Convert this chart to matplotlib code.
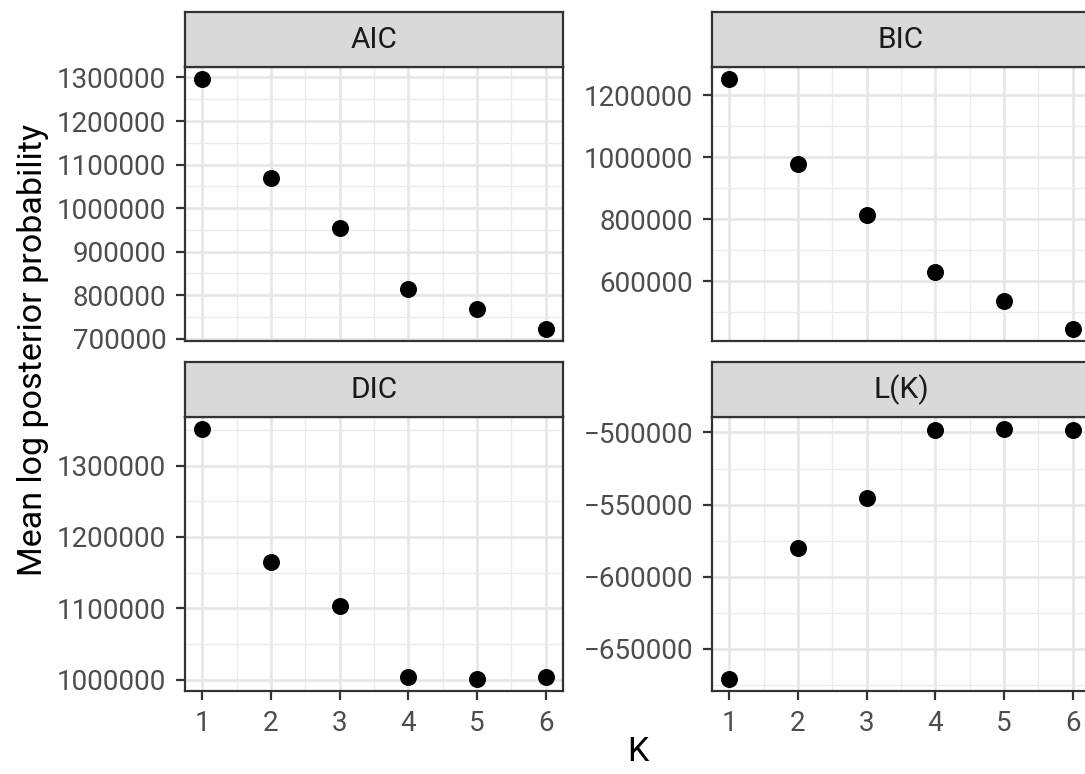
import numpy as np
import matplotlib
matplotlib.use("Agg")
import matplotlib.pyplot as plt
from matplotlib.ticker import MultipleLocator, FixedLocator

plt.rcParams['font.family'] = ['Roboto', 'DejaVu Sans']

# data
K = [1, 2, 3, 4, 5, 6]
panel_names = ["AIC", "BIC", "DIC", "L(K)"]
aic = [1295500, 1068000, 953000, 814000, 767000, 723000]
bic = [1251000, 977500, 815000, 629000, 537000, 447000]
dic = [1350700, 1164700, 1103700, 1003700, 1001400, 1003700]
lk = [-670700, -580000, -545200, -498200, -497900, -498400]
values = [aic, bic, dic, lk]
major_step = [100000, 200000, 100000, 50000]

W, H = 1085, 774
fig = plt.figure(figsize=(W / 100, H / 100), dpi=100)

def rect(x0, y0, x1, y1):
    # pixel box (top-left origin) to figure fraction
    return [x0 / W, 1 - y1 / H, (x1 - x0) / W, (y1 - y0) / H]

col_x = [(185, 563), (712, 1090)]
row_y = [(12, 67, 341), (362, 417, 691)]

edge = '#333333'
for i, name in enumerate(panel_names):
    r, c = divmod(i, 2)
    x0, x1 = col_x[c]
    s0, p0, p1 = row_y[r]

    ax = fig.add_axes(rect(x0, p0, x1, p1))
    ax.scatter(K, values[i], s=150, color='black', zorder=3, linewidths=0)
    ax.set_xlim(0.75, 6.25)
    ax.margins(y=0.05)
    step = major_step[i]
    ax.yaxis.set_major_locator(MultipleLocator(step))
    ax.yaxis.set_minor_locator(MultipleLocator(step / 2))
    ax.xaxis.set_major_locator(FixedLocator(K))
    ax.xaxis.set_minor_locator(FixedLocator([1.5, 2.5, 3.5, 4.5, 5.5]))
    ax.grid(which='major', color='#E6E6E6', lw=1.9, zorder=0)
    ax.grid(which='minor', color='#EBEBEB', lw=1.0, zorder=0)
    ax.set_axisbelow(True)
    for sp in ax.spines.values():
        sp.set_color(edge)
        sp.set_linewidth(1.6)
    ax.tick_params(which='major', length=6.5, width=1.6, color=edge,
                   labelsize=20, labelcolor='#4D4D4D', pad=7)
    ax.tick_params(which='minor', length=0)
    ax.yaxis.set_major_formatter(plt.FuncFormatter(
        lambda v, p: ('\u2212' if v < 0 else '') + '%d' % abs(round(v))))
    if r == 0:
        ax.tick_params(axis='x', which='both', length=0, labelbottom=False)

    sax = fig.add_axes(rect(x0, s0, x1, p0))
    sax.set_facecolor('#D9D9D9')
    sax.set_xticks([])
    sax.set_yticks([])
    for sp in sax.spines.values():
        sp.set_color(edge)
        sp.set_linewidth(1.6)
    sax.text(0.5, 0.5, name, ha='center', va='center', fontsize=21.5,
             color='#1A1A1A', transform=sax.transAxes)

fig.text(33 / W, 1 - 350 / H, "Mean log posterior probability", rotation=90,
         ha='center', va='center', fontsize=24.5, color='black')
fig.text(638 / W, 1 - 752 / H, "K", ha='center', va='center',
         fontsize=24.5, color='black')

fig.savefig("out.png", dpi=100)
